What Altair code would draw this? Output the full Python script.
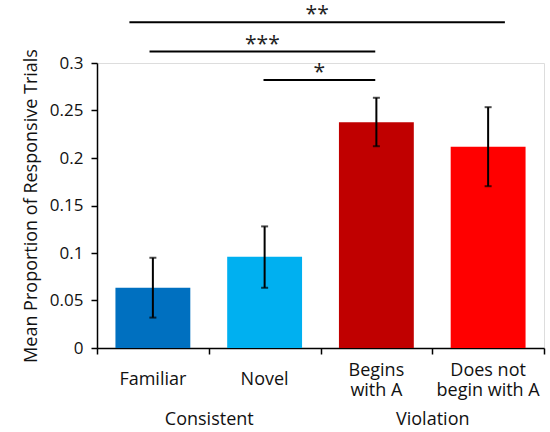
import altair as alt
import pandas as pd

# ---- data ----
categories = ["Familiar", "Novel", "Begins with A", "Does not begin with A"]
cat_labels = ["Familiar", "Novel", "Begins\nwith A", "Does not\nbegin with A"]
means = [0.0634, 0.096, 0.2377, 0.2118]
err_low = [0.032, 0.0634, 0.2124, 0.1703]
err_high = [0.095, 0.128, 0.2634, 0.2535]
bar_colors = ["#0070C0", "#00B0F0", "#C00000", "#FF0000"]

# significance brackets (x in category units: category i spans [i, i+1])
sig_start = [0.29, 0.47, 1.49]
sig_end = [3.65, 2.49, 2.49]
sig_level = [0.343, 0.3121, 0.282]
sig_text = ["**", "***", "*"]

groups = ["Consistent", "Violation"]
group_pos = [1, 3]

FONT = "Open Sans"

df = pd.DataFrame({"cat": categories, "label": cat_labels, "mean": means, "lo": err_low, "hi": err_high})
df["base"] = 0.0
df["lines"] = df["label"].str.count("\n") + 1
sig = pd.DataFrame({"x1": sig_start, "x2": sig_end, "y": sig_level, "label": sig_text})
sig["mid"] = (sig["x1"] + sig["x2"]) / 2

yscale = alt.Scale(domain=[0, 0.3], nice=False, zero=True)
yaxis = alt.Axis(
    title="Mean Proportion of Responsive Trials", values=[0, 0.05, 0.1, 0.15, 0.2, 0.25, 0.3],
    format="~g", grid=False, tickSize=6, labelPadding=8, labelFontSize=17,
    titleFontSize=18, titleFontWeight="normal", titlePadding=9,
    domainColor="black", tickColor="black", domainWidth=1.5, tickWidth=1.5,
    labelColor="#111", titleColor="#111", labelFont=FONT, titleFont=FONT,
)

xaxis = alt.Axis(
    title=None, labels=False, tickBand="extent", tickSize=6,
    domainColor="black", tickColor="black", domainWidth=1.5, tickWidth=1.5,
)
xband = alt.X("cat:N", sort=categories, scale=alt.Scale(paddingInner=0, paddingOuter=0), axis=xaxis)

bars = alt.Chart(df).mark_bar(width={"band": 0.67}).encode(
    x=xband,
    y=alt.Y("mean:Q", scale=yscale, axis=yaxis),
    color=alt.Color("cat:N", scale=alt.Scale(domain=categories, range=bar_colors), legend=None),
)

err = alt.Chart(df).mark_rule(color="black", strokeWidth=2).encode(
    x=xband,
    y=alt.Y("lo:Q", scale=yscale, axis=yaxis),
    y2="hi:Q",
)
cap_lo = alt.Chart(df).mark_tick(color="black", thickness=2, size=7, orient="horizontal").encode(
    x=xband,
    y=alt.Y("lo:Q", scale=yscale, axis=yaxis),
)
cap_hi = alt.Chart(df).mark_tick(color="black", thickness=2, size=7, orient="horizontal").encode(
    x=xband,
    y=alt.Y("hi:Q", scale=yscale, axis=yaxis),
)

label_single = alt.Chart(df).transform_filter("datum.lines == 1").mark_text(
    baseline="alphabetic", dy=37, fontSize=18, font=FONT, color="#111", lineBreak="\n",
).encode(x=xband, y=alt.Y("base:Q", scale=yscale, axis=yaxis), text="label:N")
label_double = alt.Chart(df).transform_filter("datum.lines == 2").mark_text(
    baseline="alphabetic", dy=28, fontSize=18, font=FONT, color="#111", lineBreak="\n", lineHeight=20,
).encode(x=xband, y=alt.Y("base:Q", scale=yscale, axis=yaxis), text="label:N")

base = alt.layer(bars, err, cap_lo, cap_hi, label_single, label_double)

group_expr = " : ".join(
    f"datum.value == {p} ? '{g}'" for p, g in zip(group_pos, groups)
) + " : ''"

xq = alt.Scale(domain=[0, 4], nice=False, zero=False)
gaxis = alt.Axis(
    orient="bottom", values=group_pos, labelExpr=group_expr, ticks=False,
    domain=False, grid=False, title=None, labelFontSize=18, labelPadding=62,
    labelColor="#111", labelFont=FONT, labelBaseline="top",
)
rules = alt.Chart(sig).mark_rule(color="black", strokeWidth=2).encode(
    x=alt.X("x1:Q", scale=xq, axis=gaxis),
    x2="x2:Q",
    y=alt.Y("y:Q", scale=yscale, axis=yaxis),
)
stars = alt.Chart(sig).mark_text(fontSize=21, baseline="alphabetic", dy=-1, color="#222", font=FONT).encode(
    x=alt.X("mid:Q", scale=xq, axis=gaxis),
    y=alt.Y("y:Q", scale=yscale, axis=yaxis),
    text="label:N",
)
overlay = alt.layer(rules, stars)

chart = alt.layer(base, overlay).resolve_scale(x="independent").properties(
    width=447, height=285,
    autosize=alt.AutoSizeParams(type="none"),
    padding={"left": 97, "top": 63, "right": 6, "bottom": 84},
).configure_view(strokeWidth=0, stroke="transparent").configure(font=FONT)

chart.save("out.html", embed_options={"renderer": "svg", "actions": False})
